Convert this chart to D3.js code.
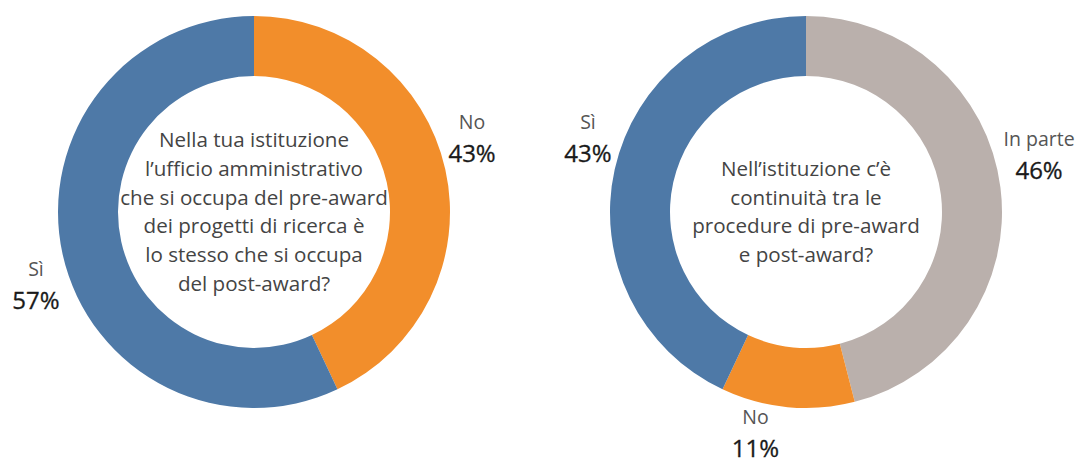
<!DOCTYPE html>
<html>
<head>
<meta charset="utf-8">
<script src="https://cdn.jsdelivr.net/npm/d3@7/dist/d3.min.js"></script>
<style>
  html, body { margin: 0; padding: 0; background: #ffffff; }
  svg { display: block; }
  text { font-family: "Open Sans", "Noto Sans", sans-serif; }
</style>
</head>
<body>
<svg id="chart" width="1080" height="463"></svg>
<script>
// ---- Data ----
const leftCategories = ["No", "Sì"];
const leftValues = [43, 57];
const leftQuestion = [
  "Nella tua istituzione",
  "l’ufficio amministrativo",
  "che si occupa del pre-award",
  "dei progetti di ricerca è",
  "lo stesso che si occupa",
  "del post-award?"
];

const rightCategories = ["In parte", "No", "Sì"];
const rightValues = [46, 11, 43];
const rightQuestion = [
  "Nell’istituzione c’è",
  "continuità tra le",
  "procedure di pre-award",
  "e post-award?"
];

const categoryColors = { "Sì": "#4e79a7", "No": "#f28e2b", "In parte": "#bab0ac" };

// ---- Layout ----
const cy = 212;
const outerR = 196, innerR = 136;
const labelR = 190, labelPad = 9;

const svg = d3.select("#chart");

const pie = d3.pie().sort(null).value(d => d.value).startAngle(0).endAngle(2 * Math.PI);
const arc = d3.arc().innerRadius(innerR).outerRadius(outerR);

function drawDonut(cx, cats, vals, question) {
  const data = cats.map((c, i) => ({ cat: c, value: vals[i] }));
  const g = svg.append("g").attr("transform", `translate(${cx},${cy})`);
  const arcs = pie(data);

  g.selectAll("path").data(arcs).enter().append("path")
    .attr("d", arc)
    .attr("fill", d => categoryColors[d.data.cat]);

  // center question
  const lh = 28.7;
  const n = question.length;
  const firstBaseline = -((n - 1) * lh) / 2 + 7;
  g.append("text")
    .attr("text-anchor", "middle")
    .attr("fill", "#444")
    .style("font-size", "20.6px")
    .selectAll("tspan").data(question).enter().append("tspan")
    .attr("x", 0)
    .attr("y", (d, i) => firstBaseline + i * lh)
    .text(d => d);

  // outside labels
  const total = d3.sum(vals);
  arcs.forEach(a => {
    const mid = (a.startAngle + a.endAngle) / 2;
    const dx = Math.sin(mid), dy = -Math.cos(mid);
    const sx = dx >= 0 ? 1 : -1, sy = dy >= 0 ? 1 : -1;
    const px = dx * labelR + sx * labelPad, py = dy * labelR + sy * labelPad;
    const lg = g.append("g");
    const t1 = lg.append("text").attr("text-anchor", "middle").attr("fill", "#555")
      .style("font-size", "19.5px").text(a.data.cat);
    const t2 = lg.append("text").attr("text-anchor", "middle").attr("fill", "#1a1a1a")
      .attr("stroke", "#1a1a1a").attr("stroke-width", 0.3)
      .style("font-size", "24px")
      .text(Math.round(a.data.value / total * 100) + "%");
    const w = Math.max(t1.node().getComputedTextLength(), t2.node().getComputedTextLength());
    const boxH = 47;
    const left = sx > 0 ? px : px - w;
    const top = sy > 0 ? py : py - boxH;
    const xc = left + w / 2;
    t1.attr("x", xc).attr("y", top + 14);
    t2.attr("x", xc).attr("y", top + boxH);
  });
}

drawDonut(254, leftCategories, leftValues, leftQuestion);
drawDonut(806, rightCategories, rightValues, rightQuestion);
</script>
</body>
</html>
